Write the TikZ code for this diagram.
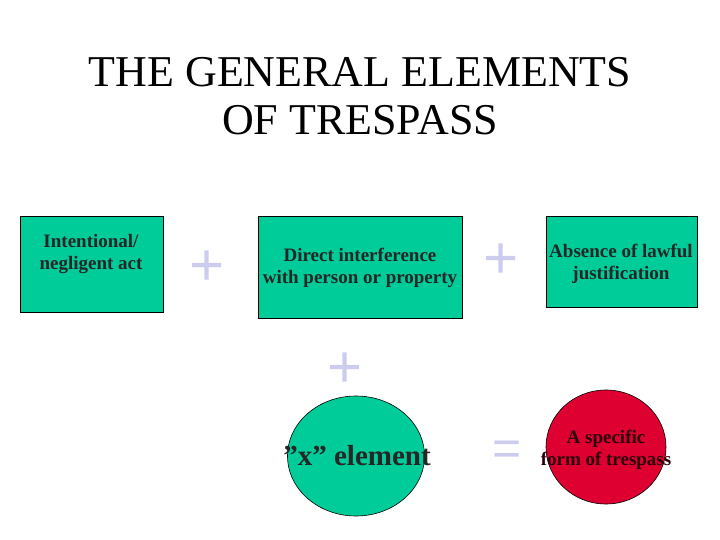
\documentclass[tikz,border=0pt]{standalone}
\usepackage{fontspec}
\setmainfont{Liberation Serif}
\newfontfamily\symfont{Liberation Sans}
\usetikzlibrary{shapes.geometric}
\definecolor{boxgreen}{HTML}{00CC99}
\definecolor{ovalred}{HTML}{DD0030}
\definecolor{signcol}{HTML}{CCCCEE}
\begin{document}
\begin{tikzpicture}[x=1pt,y=-1pt,
  elbox/.style={draw=black, line width=0.8pt, fill=boxgreen, inner sep=0pt, anchor=north west},
  eltext/.style={font=\fontsize{19}{22}\selectfont\bfseries, align=center, text=black!85, inner sep=0pt},
  signtext/.style={text=signcol, font=\symfont\fontsize{60}{60}\selectfont, inner sep=0pt},
  eqtext/.style={text=signcol, font=\symfont\fontsize{50}{50}\selectfont, inner sep=0pt}]
\useasboundingbox (0,0) rectangle (720,540);
\node[font=\fontsize{44}{48}\selectfont, align=center] (title) at (360,96) {THE GENERAL ELEMENTS\\OF TRESPASS};
% boxes
\node[elbox, minimum width=143pt, minimum height=96pt] (b1) at (20,216) {};
\node[eltext, anchor=north] (t1) at (91,234) {Intentional/\\negligent act};
\node[elbox, minimum width=204pt, minimum height=102pt] (b2) at (258,216) {};
\node[eltext, anchor=center] (t2) at (360,268) {Direct interference\\with person or property};
\node[elbox, minimum width=151pt, minimum height=91pt] (b3) at (546,216) {};
\node[eltext, anchor=north] (t3) at (621,244) {Absence of lawful\\justification};
% ellipses
\node[ellipse, draw=black, line width=0.6pt, fill=boxgreen, minimum width=137pt, minimum height=120pt, inner sep=0pt] (e1) at (356,456) {};
\node[font=\fontsize{29}{32}\selectfont\bfseries, text=black!85] (t4) at (357,456) {"x" element};
\node[ellipse, draw=black, line width=0.6pt, fill=ovalred, minimum width=120pt, minimum height=114pt, inner sep=0pt] (e2) at (606,447) {};
\node[eltext, text=black!80!ovalred] (t5) at (606,450) {A specific\\form of trespass};
% signs
\node[signtext] (p1) at (207,268) {+};
\node[signtext] (p2) at (501,261) {+};
\node[signtext] (p3) at (345,370) {+};
\node[eqtext] (eq) at (507,453) {=};
\end{tikzpicture}
\end{document}
